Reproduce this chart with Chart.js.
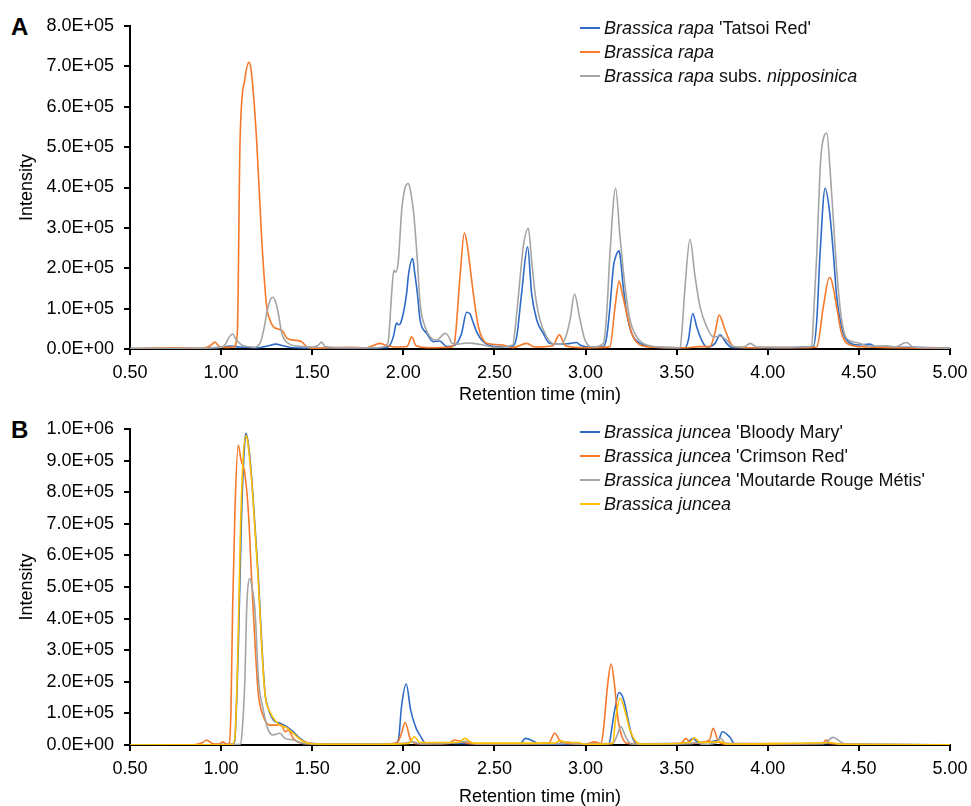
<!DOCTYPE html>
<html>
<head>
  <title>Chromatograms</title>
  <script src="https://cdn.jsdelivr.net/npm/chart.js"></script>
  <style>
    body {
      margin: 0;
      width: 971px;
      height: 806px;
      background: #fff;
      font-family: 'Liberation Sans', Arial, sans-serif;
      position: relative;
      overflow: hidden;
    }
    canvas { position: absolute; left: 0; }
    #chartA { top: 0; }
    #chartB { top: 403px; }
    .panel {
      position: absolute;
      left: 11px;
      font-weight: bold;
      font-size: 24px;
      line-height: 1;
    }
    .legend {
      position: absolute;
      left: 580px;
      font-size: 18px;
      color: #111;
    }
    .legend div {
      height: 24px;
      line-height: 24px;
      white-space: nowrap;
    }
    .legend span.swatch {
      display: inline-block;
      width: 20px;
      height: 0;
      border-top: 2px solid;
      vertical-align: middle;
      margin-right: 4px;
      position: relative;
      top: -1px;
    }
  </style>
</head>
<body>

  <div class="panel" style="top:15px">A</div>
  <div class="panel" style="top:418px">B</div>

  <canvas id="chartA" width="971" height="404"></canvas>
  <canvas id="chartB" width="971" height="403"></canvas>

  <div class="legend" style="top:16px">
    <div><span class="swatch" style="border-color:#2E6BC6"></span><i>Brassica rapa</i> 'Tatsoi Red'</div>
    <div><span class="swatch" style="border-color:#F5792A"></span><i>Brassica rapa</i></div>
    <div><span class="swatch" style="border-color:#A5A5A5"></span><i>Brassica rapa</i> subs. <i>nipposinica</i></div>
  </div>

  <div class="legend" style="top:420px">
    <div><span class="swatch" style="border-color:#2E6BC6"></span><i>Brassica juncea</i> 'Bloody Mary'</div>
    <div><span class="swatch" style="border-color:#F5792A"></span><i>Brassica juncea</i> 'Crimson Red'</div>
    <div><span class="swatch" style="border-color:#A5A5A5"></span><i>Brassica juncea</i> 'Moutarde Rouge Métis'</div>
    <div><span class="swatch" style="border-color:#FFC000"></span><i>Brassica juncea</i></div>
  </div>

  <script>
    // [retention time (min), intensity]

    // panel A
    const tatsoiRed = [
      [0.50, 1000], [0.90, 2000], [1.00, 4000], [1.05, 7000], [1.10, 5000], [1.20, 3000],
      [1.26, 8000], [1.30, 12000], [1.34, 8000], [1.40, 3000], [1.60, 2000], [1.90, 3000],
      [1.927, 10000], [1.945, 30000], [1.963, 64000], [1.975, 60000], [1.985, 64000],
      [2.018, 138000], [2.028, 183000], [2.051, 224000], [2.062, 190000], [2.077, 138000],
      [2.092, 72000], [2.128, 39000], [2.165, 18000], [2.20, 20000], [2.238, 6000],
      [2.284, 10000], [2.32, 39000], [2.347, 91000], [2.366, 87000], [2.38, 70000],
      [2.402, 43000], [2.439, 18000], [2.512, 6000], [2.60, 7000], [2.622, 30000],
      [2.649, 138000], [2.682, 253000], [2.704, 138000], [2.732, 72000], [2.768, 39000],
      [2.80, 15000], [2.85, 12000], [2.90, 13000], [2.951, 16000], [2.97, 10000],
      [3.025, 4000], [3.098, 6000], [3.116, 30000], [3.134, 105000], [3.153, 204000],
      [3.162, 224000], [3.184, 243000], [3.19, 230000], [3.207, 154000], [3.226, 88000],
      [3.253, 39000], [3.30, 14000], [3.40, 4000], [3.546, 3000], [3.564, 22000],
      [3.588, 88000], [3.61, 55000], [3.637, 22000], [3.665, 5000], [3.71, 14000],
      [3.738, 35000], [3.774, 14000], [3.802, 4000], [3.90, 3000], [4.00, 3000],
      [4.25, 6000], [4.269, 72000], [4.287, 237000], [4.315, 398000], [4.338, 344000],
      [4.36, 237000], [4.378, 129000], [4.405, 55000], [4.433, 22000], [4.50, 10000],
      [4.56, 12000], [4.60, 5000], [4.80, 4000], [5.00, 2000]
    ];

    const rapa = [
      [0.50, 1000], [0.75, 3000], [0.90, 2000], [0.94, 8000], [0.966, 17000], [0.99, 6000],
      [1.03, 4000], [1.07, 5000], [1.089, 40000], [1.104, 517000], [1.131, 670000],
      [1.153, 710000], [1.165, 690000], [1.195, 517000], [1.223, 270000], [1.25, 105000],
      [1.265, 75000], [1.287, 55000], [1.31, 50000], [1.34, 43000], [1.36, 27000],
      [1.40, 22000], [1.442, 18000], [1.47, 6000], [1.50, 2000], [1.60, 3000], [1.70, 4000],
      [1.80, 3000], [1.872, 14000], [1.90, 10000], [1.95, 5000], [2.02, 6000], [2.046, 30000],
      [2.07, 8000], [2.15, 3000], [2.25, 4000], [2.278, 10000], [2.311, 179000],
      [2.335, 288000], [2.35, 260000], [2.366, 204000], [2.384, 138000], [2.412, 55000],
      [2.458, 14000], [2.547, 10000], [2.60, 3000], [2.677, 14000], [2.72, 5000],
      [2.82, 8000], [2.856, 35000], [2.89, 8000], [3.00, 3000], [3.10, 4000], [3.134, 6000],
      [3.162, 105000], [3.184, 168000], [3.20, 140000], [3.226, 88000], [3.253, 39000],
      [3.30, 10000], [3.40, 4000], [3.55, 3000], [3.62, 6000], [3.683, 6000], [3.71, 40000],
      [3.733, 84000], [3.766, 47000], [3.811, 6000], [3.90, 3000], [4.00, 4000],
      [4.20, 3000], [4.269, 5000], [4.305, 105000], [4.338, 177000], [4.35, 170000],
      [4.378, 105000], [4.405, 39000], [4.452, 10000], [4.55, 5000], [4.70, 3000], [5.00, 2000]
    ];

    const nipposinica = [
      [0.50, 1000], [0.90, 2000], [1.00, 5000], [1.021, 10000], [1.045, 30000], [1.063, 37000],
      [1.08, 25000], [1.113, 10000], [1.14, 6000], [1.18, 4000], [1.213, 14000], [1.235, 50000],
      [1.25, 88000], [1.27, 122000], [1.283, 128000], [1.30, 115000], [1.314, 88000],
      [1.333, 39000], [1.369, 14000], [1.433, 7000], [1.50, 5000], [1.53, 8000], [1.552, 17000],
      [1.57, 6000], [1.70, 3000], [1.85, 3000], [1.90, 6000], [1.918, 22000], [1.936, 138000],
      [1.948, 195000], [1.958, 190000], [1.973, 220000], [1.991, 344000], [2.01, 400000],
      [2.028, 410000], [2.04, 390000], [2.055, 344000], [2.077, 220000], [2.092, 113000],
      [2.119, 55000], [2.147, 30000], [2.183, 22000], [2.205, 30000], [2.229, 39000],
      [2.25, 30000], [2.266, 14000], [2.30, 12000], [2.35, 15000], [2.384, 14000],
      [2.44, 10000], [2.50, 4000], [2.60, 10000], [2.622, 88000], [2.65, 220000],
      [2.659, 257000], [2.686, 299000], [2.704, 220000], [2.723, 138000], [2.75, 72000],
      [2.787, 30000], [2.83, 12000], [2.86, 12000], [2.888, 26000], [2.915, 72000],
      [2.939, 136000], [2.97, 72000], [2.997, 22000], [3.043, 5000], [3.098, 14000],
      [3.116, 88000], [3.134, 237000], [3.165, 398000], [3.189, 278000], [3.217, 154000],
      [3.244, 72000], [3.281, 30000], [3.336, 10000], [3.45, 4000], [3.519, 3000],
      [3.528, 39000], [3.546, 154000], [3.573, 272000], [3.601, 179000], [3.628, 105000],
      [3.665, 55000], [3.701, 30000], [3.738, 32000], [3.774, 22000], [3.811, 6000],
      [3.87, 5000], [3.903, 14000], [3.94, 5000], [4.10, 4000], [4.20, 5000], [4.241, 6000],
      [4.25, 72000], [4.269, 237000], [4.287, 443000], [4.296, 497000], [4.324, 535000],
      [4.342, 443000], [4.36, 319000], [4.378, 196000], [4.405, 72000], [4.433, 26000],
      [4.488, 16000], [4.56, 7000], [4.65, 8000], [4.70, 5000], [4.76, 16000], [4.80, 5000],
      [5.00, 2000]
    ];

    // panel B
    const bloodyMary = [
      [0.50, 0], [0.90, 1000], [1.05, 2000], [1.07, 5000], [1.077, 26000], [1.095, 322000],
      [1.113, 744000], [1.13, 960000], [1.137, 986000], [1.15, 950000], [1.167, 849000],
      [1.186, 691000], [1.204, 533000], [1.223, 322000], [1.241, 164000], [1.259, 116000],
      [1.287, 79000], [1.323, 69000], [1.36, 58000], [1.396, 42000], [1.433, 21000],
      [1.488, 5000], [1.60, 3000], [1.80, 2000], [1.95, 3000], [1.973, 16000], [1.99, 121000],
      [2.016, 193000], [2.04, 111000], [2.07, 53000], [2.09, 32000], [2.12, 7000],
      [2.30, 5000], [2.50, 3000], [2.64, 3000], [2.67, 21000], [2.72, 10000], [2.75, 2000],
      [3.00, 2000], [3.13, 5000], [3.14, 37000], [3.16, 111000], [3.184, 166000],
      [3.21, 142000], [3.23, 90000], [3.25, 37000], [3.27, 10000], [3.30, 4000],
      [3.55, 5000], [3.59, 21000], [3.62, 8000], [3.73, 16000], [3.75, 42000], [3.79, 26000],
      [3.82, 3000], [4.00, 2000], [4.35, 5000], [4.40, 2000], [5.00, 1000]
    ];

    const crimsonRed = [
      [0.50, 0], [0.85, 1000], [0.90, 8000], [0.92, 16000], [0.95, 5000], [0.99, 3000],
      [1.01, 10000], [1.03, 2000], [1.045, 5000], [1.054, 110000], [1.063, 427000],
      [1.076, 744000], [1.094, 949000], [1.11, 900000], [1.122, 881000], [1.13, 860000],
      [1.149, 744000], [1.167, 533000], [1.186, 322000], [1.204, 164000], [1.232, 90000],
      [1.268, 63000], [1.305, 63000], [1.33, 65000], [1.351, 42000], [1.37, 47000],
      [1.396, 21000], [1.45, 5000], [1.60, 3000], [1.90, 3000], [1.97, 10000], [1.99, 37000],
      [2.01, 71000], [2.04, 16000], [2.08, 4000], [2.25, 5000], [2.28, 16000], [2.32, 10000],
      [2.36, 5000], [2.50, 2000], [2.80, 7000], [2.83, 37000], [2.87, 7000], [3.00, 3000],
      [3.05, 10000], [3.086, 5000], [3.10, 58000], [3.12, 185000], [3.14, 256000],
      [3.16, 185000], [3.176, 90000], [3.20, 26000], [3.23, 5000], [3.50, 3000],
      [3.53, 8000], [3.55, 21000], [3.58, 5000], [3.68, 16000], [3.70, 53000], [3.73, 10000],
      [3.78, 2000], [4.30, 5000], [4.32, 16000], [4.35, 4000], [5.00, 1000]
    ];

    const moutarde = [
      [0.50, 0], [1.00, 1000], [1.104, 2000], [1.113, 26000], [1.131, 216000], [1.14, 427000],
      [1.158, 527000], [1.17, 500000], [1.186, 427000], [1.204, 216000], [1.232, 110000],
      [1.259, 47000], [1.287, 32000], [1.323, 37000], [1.351, 21000], [1.396, 16000],
      [1.45, 5000], [1.60, 3000], [2.00, 5000], [2.05, 10000], [2.10, 3000], [2.30, 8000],
      [2.35, 12000], [2.40, 3000], [2.88, 5000], [2.90, 10000], [2.95, 3000], [3.15, 5000],
      [3.17, 26000], [3.194, 58000], [3.22, 26000], [3.25, 3000], [3.58, 4000], [3.60, 8000],
      [3.65, 2000], [3.72, 8000], [3.74, 21000], [3.77, 5000], [4.30, 4000], [4.36, 24000],
      [4.40, 10000], [4.43, 2000], [5.00, 1000]
    ];

    const juncea = [
      [0.50, 0], [1.00, 1000], [1.06, 2000], [1.075, 20000], [1.09, 250000], [1.105, 650000],
      [1.12, 900000], [1.138, 980000], [1.15, 940000], [1.167, 840000], [1.186, 680000],
      [1.204, 520000], [1.223, 310000], [1.241, 160000], [1.268, 105000], [1.30, 75000],
      [1.33, 60000], [1.351, 58000], [1.37, 50000], [1.40, 35000], [1.44, 15000],
      [1.50, 4000], [1.80, 2000], [2.03, 5000], [2.06, 26000], [2.09, 8000], [2.30, 8000],
      [2.34, 21000], [2.38, 6000], [2.83, 6000], [2.86, 14000], [2.90, 8000], [2.96, 8000],
      [3.00, 2000], [3.15, 5000], [3.164, 79000], [3.19, 148000], [3.22, 100000],
      [3.244, 47000], [3.27, 16000], [3.30, 3000], [3.57, 8000], [3.596, 23000],
      [3.63, 8000], [3.74, 10000], [3.78, 3000], [4.35, 7000], [4.40, 2000], [5.00, 1000]
    ];

    const xTicks = [0.5, 5.0, 0.5];   // min, max, step
    const yMaxA = 800000;
    const yMaxB = 1000000;

    const FONT = "'Liberation Sans', Arial, sans-serif";

    function sci(v) {
      if (v === 0) return '0.0E+00';
      const e = Math.floor(Math.log10(v) + 1e-9);
      const m = v / Math.pow(10, e);
      return m.toFixed(1) + 'E+' + String(e).padStart(2, '0');
    }

    function toPoints(arr) {
      return arr.map(p => ({ x: p[0], y: p[1] }));
    }

    function line(label, arr, color, order) {
      return {
        label: label,
        data: toPoints(arr),
        borderColor: color,
        borderWidth: 1.6,
        pointRadius: 0,
        cubicInterpolationMode: 'monotone',
        fill: false,
        order: order
      };
    }

    function makeOptions(yMax, xHeight) {
      return {
        responsive: false,
        animation: false,
        parsing: false,
        layout: { padding: { top: 26, right: 21, left: 0, bottom: 0 } },
        plugins: { legend: { display: false }, tooltip: { enabled: false } },
        scales: {
          x: {
            type: 'linear',
            min: xTicks[0], max: xTicks[1],
            ticks: {
              stepSize: xTicks[2],
              color: '#000',
              font: { family: FONT, size: 18 },
              padding: 7,
              maxRotation: 0,
              callback: v => Number(v).toFixed(2)
            },
            grid: { drawOnChartArea: false, drawTicks: true, tickLength: 6, color: '#000', lineWidth: 2 },
            border: { display: true, color: '#000', width: 2 },
            title: {
              display: true, text: 'Retention time (min)', color: '#000',
              font: { family: FONT, size: 18, lineHeight: 1 },
              padding: { top: 0, bottom: 0 }
            },
            afterFit: s => { s.height = xHeight; s.paddingLeft = 0; s.paddingRight = 0; }
          },
          y: {
            min: 0, max: yMax,
            ticks: {
              stepSize: 100000,
              color: '#000',
              font: { family: FONT, size: 18 },
              padding: 10,
              callback: v => sci(v)
            },
            grid: { drawOnChartArea: false, drawTicks: true, tickLength: 6, color: '#000', lineWidth: 2 },
            border: { display: true, color: '#000', width: 2 },
            title: {
              display: true, text: 'Intensity', color: '#000',
              font: { family: FONT, size: 18, lineHeight: 1 },
              padding: { top: 18, bottom: 0 }
            },
            afterFit: s => { s.width = 130; }
          }
        }
      };
    }

    new Chart(document.getElementById('chartA'), {
      type: 'line',
      data: {
        datasets: [
          line("Brassica rapa 'Tatsoi Red'", tatsoiRed, '#2E6BC6', 2),
          line('Brassica rapa', rapa, '#F5792A', 1),
          line('Brassica rapa subs. nipposinica', nipposinica, '#A5A5A5', 0)
        ]
      },
      options: makeOptions(yMaxA, 55)
    });

    new Chart(document.getElementById('chartB'), {
      type: 'line',
      data: {
        datasets: [
          line("Brassica juncea 'Bloody Mary'", bloodyMary, '#2E6BC6', 3),
          line("Brassica juncea 'Crimson Red'", crimsonRed, '#F5792A', 2),
          line("Brassica juncea 'Moutarde Rouge Métis'", moutarde, '#A5A5A5', 1),
          line('Brassica juncea', juncea, '#FFC000', 0)
        ]
      },
      options: makeOptions(yMaxB, 61)
    });
  </script>
</body>
</html>
